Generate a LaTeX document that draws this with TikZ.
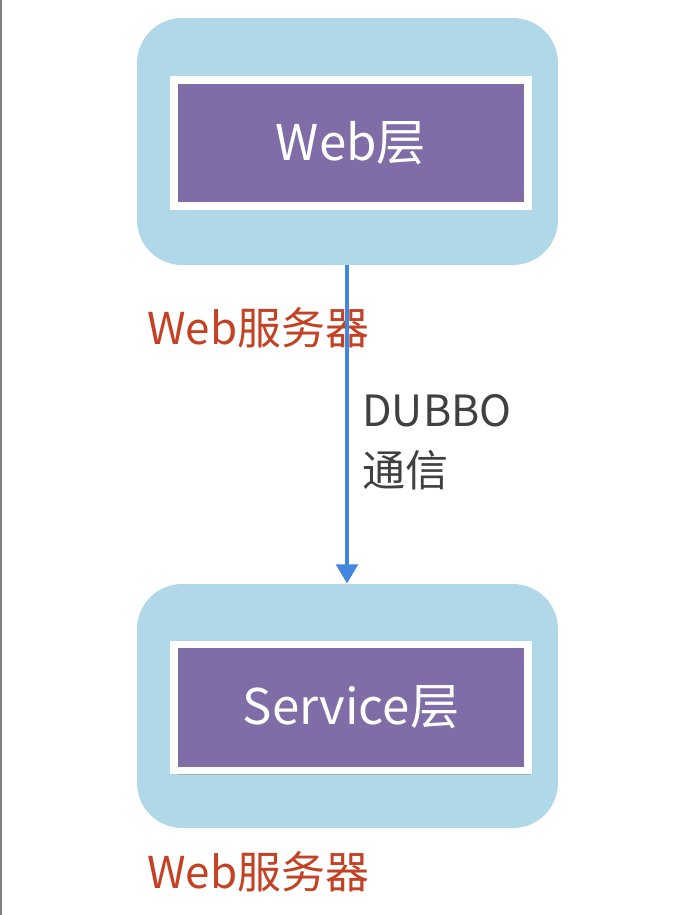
\documentclass[tikz,border=0pt]{standalone}
\usepackage{fontspec}
\newfontfamily\cjk{Noto Sans CJK SC}
\usepackage{xcolor}
\definecolor{TierBlue}{RGB}{176, 216, 233}
\definecolor{LayerPurple}{RGB}{128, 108, 166}
\definecolor{ServerRed}{RGB}{196, 66, 36}
\definecolor{ArrowBlue}{RGB}{66, 134, 222}
\definecolor{NoteGray}{RGB}{64, 64, 64}
\usetikzlibrary{
    arrows.meta,
    shadows,
    positioning
    }

\begin{document}
\begin{tikzpicture}[x=0.02cm, y=-0.02cm,
    tier/.style={fill=TierBlue, rounded corners=0.9cm, minimum width=8.42cm},
    layer/.style={fill=LayerPurple, draw=white, line width=4.5pt, minimum width=7.08cm, minimum height=2.52cm,
        text=white, font=\cjk\fontsize{28}{32}\selectfont,
        drop shadow={shadow xshift=1.5pt, shadow yshift=-2.5pt, opacity=0.4}},
    srvlabel/.style={text=ServerRed, font=\cjk\fontsize{25}{30}\selectfont, anchor=west, inner sep=0pt},
    note/.style={text=NoteGray, font=\cjk\fontsize{24.5}{34}\selectfont, align=left, anchor=west, inner sep=0pt}
    ]

    \useasboundingbox (0,0) rectangle (698,915);
    \draw[gray, line width=1.2pt] (1,0) -- (1,915);

    %Web tier
    \node[tier, minimum height=4.94cm] (webtier) at (347.5,141.5) {};
    \node[layer] (weblayer) at (351,143) {Web层};
    \node[srvlabel] (websrv) at (147,328) {Web服务器};

    %Service tier
    \node[tier, minimum height=4.88cm] (svctier) at (347.5,706) {};
    \node[layer] (svclayer) at (351,707.5) {Service层};
    \node[srvlabel] (svcsrv) at (147,872) {Web服务器};

    %DUBBO
    \node[note] (dubbo) at (362,442) {DUBBO\\通信};
    \draw[ArrowBlue, line width=2.8pt, -{Triangle[length=11pt, width=12pt]}] (webtier.south -| 347,0) -- (svctier.north -| 347,0);

\end{tikzpicture}
\end{document}
